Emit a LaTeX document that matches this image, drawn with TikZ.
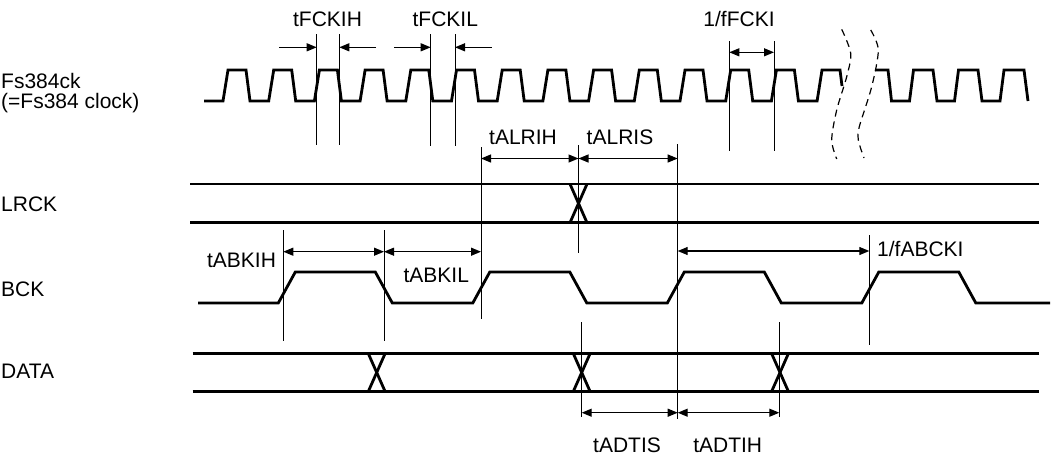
\documentclass[tikz,border=0pt]{standalone}
\usepackage{fontspec}
\setmainfont{Liberation Sans}
\usetikzlibrary{arrows.meta}
\begin{document}
\begin{tikzpicture}[x=1pt,y=-1pt,
  wave/.style={line width=2.8pt},
  markline/.style={line width=1pt},
  dimone/.style={line width=1.2pt,-{Triangle[length=10pt,width=8pt]}},
  dimtwo/.style={line width=1.2pt,{Triangle[length=10pt,width=8pt]}-{Triangle[length=10pt,width=8pt]}},
  brk/.style={line width=1.2pt,dash pattern=on 7pt off 5pt},
  lbl/.style={font=\fontsize{21}{25}\selectfont,inner sep=0pt,anchor=base},
  sig/.style={lbl,anchor=base west}]
\useasboundingbox (0,0) rectangle (1051,456);

% signal names
\node[sig] (lfs)   at (1,88.5)  {Fs384ck};
\node[sig] (lfs2)  at (1,108.5) {(=Fs384 clock)};
\node[sig] (llr)   at (1,211.5) {LRCK};
\node[sig] (lbck)  at (1,296.5) {BCK};
\node[sig] (ldata) at (1,378.5) {DATA};

% timing labels
\node[lbl] (tfckih) at (327.5,26) {tFCKIH};
\node[lbl] (tfckil) at (445.3,26) {tFCKIL};
\node[lbl] (ffcki)  at (739,26)   {1/fFCKI};
\node[lbl] (talrih) at (523,144)  {tALRIH};
\node[lbl] (talris) at (620,144)  {tALRIS};
\node[lbl] (tabkih) at (241.5,267.3) {tABKIH};
\node[lbl] (tabkil) at (436.3,282.3) {tABKIL};
\node[sig] (fabcki) at (877,256)  {1/fABCKI};
\node[lbl] (tadtis) at (627,452.3) {tADTIS};
\node[lbl] (tadtih) at (727.7,452.3) {tADTIH};

% Fs384 clock
\draw[wave] (204,101)
  \foreach \k in {0,...,12} {
    -- ({223+45.7*\k},101) -- ({228+45.7*\k},70)
    -- ({246+45.7*\k},70) -- ({250+45.7*\k},101) }
  -- (817.1,101) -- (822,70) -- (840,70) -- (842,86);
\draw[wave] (875,70) -- (888,70) -- (891.5,101) -- (909.5,101) -- (913.5,70)
  -- (933,70) -- (937,101) -- (954.5,101) -- (958.5,70) -- (978,70)
  -- (982,101) -- (1000,101) -- (1004,70) -- (1024,70) -- (1028,101);

% break marks
\draw[brk] plot[smooth] coordinates {(841.7,29.3) (850.7,53.3) (846.7,76.7) (836.7,110) (831.7,140) (836.7,159)};
\draw[brk] plot[smooth] coordinates {(870.7,30) (878.3,50) (871.7,86.7) (859.3,126.7) (858.3,140) (864,158)};

% clock markers
\draw[markline] (316.7,34) -- (316.7,145);
\draw[markline] (339.3,34) -- (339.3,145);
\draw[markline] (430.7,34) -- (430.7,146);
\draw[markline] (455,34) -- (455,146);
\draw[markline] (729.3,41) -- (729.3,151);
\draw[markline] (774,41) -- (774,151);
\draw[dimone] (279,47.3) -- (316.7,47.3);
\draw[dimone] (376,47.3) -- (339.3,47.3);
\draw[dimone] (394,47.3) -- (430.7,47.3);
\draw[dimone] (491.7,47.3) -- (455,47.3);
\draw[dimtwo] (729.3,52.3) -- (774,52.3);

% LRCK
\draw[wave] (190,184) -- (1039,184);
\draw[wave] (190,222.7) -- (1039,222.7);
\draw[wave] (570,184) -- (587,222.7);
\draw[wave] (570,222.7) -- (587,184);
\draw[markline] (578.5,145) -- (578.5,253);
\draw[markline] (481,147) -- (481,319);
\draw[markline] (677.7,144) -- (677.7,419);
\draw[dimtwo] (481,158.5) -- (578.5,158.5);
\draw[dimtwo] (578.5,158.5) -- (677.7,158.5);

% BCK
\draw[wave] (198,303)
  \foreach \k in {0,...,3} {
    -- ({278.3+194.5*\k},303) -- ({295.3+194.5*\k},272)
    -- ({375.3+194.5*\k},272) -- ({392.3+194.5*\k},303) }
  -- (1050,303);
\draw[markline] (283.3,230) -- (283.3,341);
\draw[markline] (384,230) -- (384,341);
\draw[markline] (869.3,235) -- (869.3,345);
\draw[dimtwo] (283.3,251.7) -- (384,251.7);
\draw[dimtwo] (384,251.7) -- (481,251.7);
\draw[dimtwo] (677.7,251) -- (869.3,251);

% DATA
\draw[wave] (192.7,353.3) -- (1039,353.3);
\draw[wave] (192.7,391.7) -- (1039,391.7);
\foreach \c in {376.7,581.7,780} {
  \draw[wave] ({\c-8.5},353.3) -- ({\c+8.5},391.7);
  \draw[wave] ({\c-8.5},391.7) -- ({\c+8.5},353.3);
}
\draw[markline] (581.7,322) -- (581.7,417);
\draw[markline] (779.3,322) -- (779.3,417);
\draw[dimtwo] (581.7,412.7) -- (677.7,412.7);
\draw[dimtwo] (677.7,412.7) -- (779.3,412.7);
\end{tikzpicture}
\end{document}
